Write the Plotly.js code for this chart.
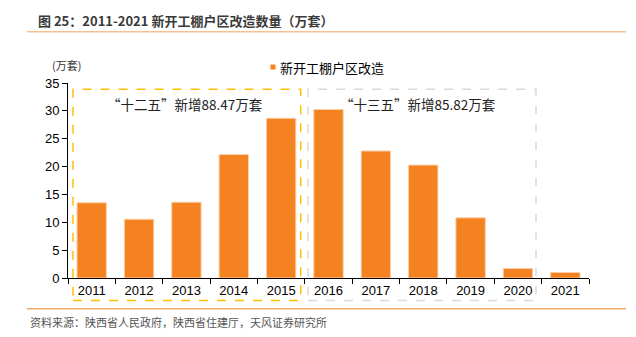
<!DOCTYPE html>
<html><head><meta charset="utf-8">
<script src="https://cdn.plot.ly/plotly-3.0.1.min.js"></script>
<style>html,body{margin:0;padding:0;background:#fff}#c{width:636px;height:337px}</style>
</head><body><div id="c"></div>
<script>
const years = ['2011','2012','2013','2014','2015','2016','2017','2018','2019','2020','2021'];
const values = [13.5, 10.55, 13.6, 22.15, 28.67, 30.25, 22.8, 20.27, 10.8, 1.7, 1.0];
const seriesName = '新开工棚户区改造';
const yTicks = [0,5,10,15,20,25,30,35];

const W=636,H=337,L=68,R=47,T=83,B=58.5;
const pw=W-L-R, ph=H-T-B;
const px=x=>(x-L)/pw, py=y=>(H-B-y)/ph;
const fam='"Liberation Sans", Arial, "Noto Sans CJK SC", sans-serif';
const cjk='"Noto Sans CJK SC", "Liberation Sans", sans-serif';
const barColor='#F58220';

const data=[{type:'bar',x:years,y:values,name:seriesName,width:0.62,
  marker:{color:barColor,line:{color:'#FBCFA8',width:1}},showlegend:false}];

const layout={width:W,height:H,margin:{l:L,r:R,t:T,b:B,pad:0},
  paper_bgcolor:'#fff',plot_bgcolor:'#fff',bargap:0.38,
  font:{family:fam,size:13,color:'#000'},
  xaxis:{type:'category',showline:true,linecolor:'#000',linewidth:1,ticks:'outside',ticklen:5,tickcolor:'#000',
    tickson:'boundaries',showgrid:false,zeroline:false,tickfont:{size:13,color:'#000'}},
  yaxis:{range:[0,35],tickvals:yTicks,showline:true,linecolor:'#000',linewidth:1,ticks:'outside',ticklen:5,tickcolor:'#000',
    showgrid:false,zeroline:false,tickfont:{size:13,color:'#000'}},
  showlegend:false,
  shapes:[
    {type:'rect',xref:'paper',yref:'paper',x0:px(73),x1:px(300.7),y0:py(301),y1:py(89.3),line:{color:'#FFC000',width:1.5,dash:'dash'}},
    {type:'rect',xref:'paper',yref:'paper',x0:px(308),x1:px(536),y0:py(301),y1:py(89.3),line:{color:'#D9D9D9',width:1.5,dash:'dash'}},
    {type:'line',xref:'paper',yref:'paper',x0:px(27),x1:px(626),y0:py(31.5),y1:py(31.5),line:{color:'#F7C08F',width:1.5}},
    {type:'line',xref:'paper',yref:'paper',x0:px(27),x1:px(626),y0:py(309.3),y1:py(309.3),line:{color:'#F0A868',width:1.5}},
    {type:'rect',xref:'paper',yref:'paper',x0:px(270.5),x1:px(275.5),y0:py(69.5),y1:py(64.5),line:{width:0},fillcolor:barColor}
  ],
  annotations:[
    {xref:'paper',yref:'paper',x:px(36),y:py(20),xanchor:'left',yanchor:'middle',showarrow:false,
      text:'<b>图 25：2011-2021 新开工棚户区改造数量（万套）</b>',font:{family:cjk,size:13,color:'#3a3a3a'}},
    {xref:'paper',yref:'paper',x:px(278),y:py(67),xanchor:'left',yanchor:'middle',showarrow:false,
      text:seriesName,font:{family:cjk,size:13,color:'#000'}},
    {xref:'paper',yref:'paper',x:px(66),y:py(65),xanchor:'center',yanchor:'middle',showarrow:false,
      text:'(万套)',font:{family:cjk,size:11,color:'#333'}},
    {xref:'paper',yref:'paper',x:px(185),y:py(104),xanchor:'center',yanchor:'middle',showarrow:false,
      text:'“十二五”新增88.47万套',font:{family:cjk,size:13.5,color:'#222'}},
    {xref:'paper',yref:'paper',x:px(418),y:py(104),xanchor:'center',yanchor:'middle',showarrow:false,
      text:'“十三五”新增85.82万套',font:{family:cjk,size:13.5,color:'#222'}},
    {xref:'paper',yref:'paper',x:px(28),y:py(322.5),xanchor:'left',yanchor:'middle',showarrow:false,
      text:'资料来源：陕西省人民政府，陕西省住建厅，天风证券研究所',font:{family:cjk,size:11,color:'#555'}}
  ]
};
Plotly.newPlot('c',data,layout,{displayModeBar:false,staticPlot:true});
</script></body></html>
